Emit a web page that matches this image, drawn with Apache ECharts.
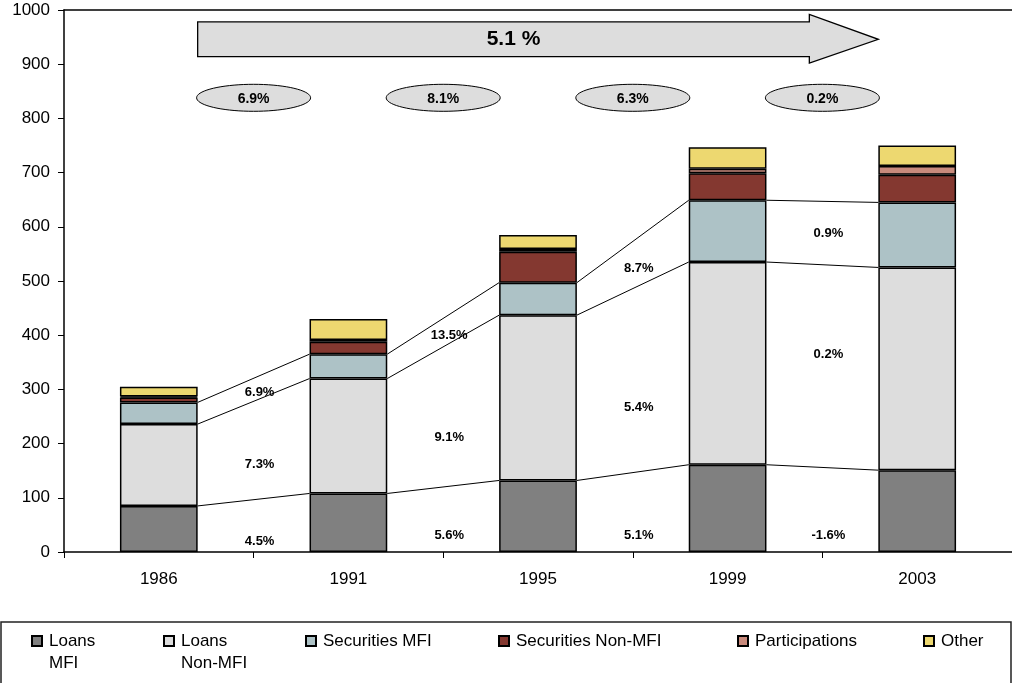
<!DOCTYPE html>
<html>
<head>
<meta charset="utf-8">
<script src="https://cdn.jsdelivr.net/npm/echarts@6/dist/echarts.min.js"></script>
<style>
  html, body { margin: 0; padding: 0; background: #fff; }
  #chart { width: 1012px; height: 683px; }
</style>
</head>
<body>
<div id="chart"></div>
<script>
// Balance sheet composition by year (stacked), with growth rates between years
const years = ['1986', '1991', '1995', '1999', '2003'];
const loansMFI         = [85, 108, 132, 161, 151];
const loansNonMFI      = [151, 212, 305, 374, 374];
const securitiesMFI    = [40, 45, 60, 114, 120];
const securitiesNonMFI = [9, 23, 57, 50, 51];
const participations   = [2, 3, 5, 8, 16];
const other            = [18, 39, 26, 40, 38];

// Average annual growth between consecutive years
const growthLoansMFI    = ['4.5%', '5.6%', '5.1%', '-1.6%'];
const growthLoansNonMFI = ['7.3%', '9.1%', '5.4%', '0.2%'];
const growthSecurities  = ['6.9%', '13.5%', '8.7%', '0.9%'];
const growthTotal       = ['6.9%', '8.1%', '6.3%', '0.2%'];
const growthOverall     = '5.1 %';

// ---- layout (value-axis levels where the annotations sit) ----
const levelLoansMFILabels    = [20, 30, 30, 31];
const levelLoansNonMFILabels = [162, 212, 266, 365];
const levelSecuritiesLabels  = [295, 399, 524, 587];
const ELLIPSE_LEVEL = 838;
const ARROW = { bodyTop: 978, bodyBottom: 914, headTop: 992, headBottom: 902, tip: 946, headLen: 69 };
const BAR_FRAC = 0.41;
const FONT = 'Liberation Sans, Arial, sans-serif';

const cum = (...arrs) => arrs[0].map((_, i) => arrs.reduce((s, a) => s + a[i], 0));
const level1 = cum(loansMFI);
const level2 = cum(loansMFI, loansNonMFI);
const level3 = cum(loansMFI, loansNonMFI, securitiesMFI);

const connectorData = [];
[level1, level2, level3].forEach(lv => {
  for (let i = 0; i < lv.length - 1; i++) connectorData.push([i, lv[i], lv[i + 1]]);
});

const growthLabelData = [];
[[growthLoansMFI, levelLoansMFILabels], [growthLoansNonMFI, levelLoansNonMFILabels],
 [growthSecurities, levelSecuritiesLabels]].forEach(([txt, lv]) => {
  txt.forEach((t, i) => growthLabelData.push({ value: [i, lv[i]], label: t }));
});

const ellipseData = growthTotal.map((t, i) => ({ value: [i, ELLIPSE_LEVEL], label: t }));

const seriesDefs = [
  ['Loans MFI', loansMFI, '#808080'],
  ['Loans Non-MFI', loansNonMFI, '#DDDDDD'],
  ['Securities MFI', securitiesMFI, '#ADC2C6'],
  ['Securities Non-MFI', securitiesNonMFI, '#843830'],
  ['Participations', participations, '#C98A7C'],
  ['Other', other, '#EDD870']
];

const barSeries = seriesDefs.map(([name, data, color]) => ({
  name, type: 'bar', stack: 'total', data,
  barWidth: (BAR_FRAC * 100) + '%',
  itemStyle: { color, borderColor: '#000', borderWidth: 1.5 },
  z: 3
}));

function halfBar(api) { return api.size([1, 0])[0] * BAR_FRAC / 2; }

const connectorSeries = {
  type: 'custom', data: connectorData, z: 2, silent: true,
  renderItem(params, api) {
    const i = api.value(0);
    const a = api.coord([i, api.value(1)]);
    const b = api.coord([i + 1, api.value(2)]);
    const hw = halfBar(api);
    return { type: 'line', shape: { x1: a[0] + hw, y1: a[1], x2: b[0] - hw, y2: b[1] },
             style: { stroke: '#000', lineWidth: 1 } };
  }
};

const growthLabelSeries = {
  type: 'custom', data: growthLabelData, z: 4, silent: true,
  renderItem(params, api) {
    const i = api.value(0);
    const a = api.coord([i, api.value(1)]);
    const b = api.coord([i + 1, api.value(1)]);
    return { type: 'text', x: (a[0] + b[0]) / 2 + 6, y: a[1],
             style: { text: growthLabelData[params.dataIndex].label, fill: '#000',
                      font: 'bold 13px ' + FONT, align: 'center', verticalAlign: 'middle' } };
  }
};

const ellipseSeries = {
  type: 'custom', data: ellipseData, z: 4, silent: true,
  renderItem(params, api) {
    const i = api.value(0);
    const a = api.coord([i, api.value(1)]);
    const b = api.coord([i + 1, api.value(1)]);
    const cx = (a[0] + b[0]) / 2, cy = a[1];
    const rx = 57, ry = 13.5, pts = [];
    for (let k = 0; k < 72; k++) {
      const t = k / 72 * Math.PI * 2;
      pts.push([cx + rx * Math.cos(t), cy + ry * Math.sin(t)]);
    }
    return { type: 'group', children: [
      { type: 'polygon', shape: { points: pts }, style: { fill: '#DDDDDD', stroke: '#000', lineWidth: 1 } },
      { type: 'text', x: cx, y: cy + 1, style: { text: ellipseData[params.dataIndex].label, fill: '#000',
        font: 'bold 14px ' + FONT, align: 'center', verticalAlign: 'middle' } }
    ] };
  }
};

const arrowSeries = {
  type: 'custom', data: [[0, ARROW.tip]], z: 4, silent: true,
  renderItem(params, api) {
    const hw = halfBar(api);
    const x0 = api.coord([0, 0])[0] + hw;
    const x1 = api.coord([years.length - 1, 0])[0] - hw;
    const y = v => api.coord([0, v])[1];
    const xh = x1 - ARROW.headLen;
    const pts = [
      [x0, y(ARROW.bodyTop)], [xh, y(ARROW.bodyTop)], [xh, y(ARROW.headTop)],
      [x1, y(ARROW.tip)], [xh, y(ARROW.headBottom)], [xh, y(ARROW.bodyBottom)],
      [x0, y(ARROW.bodyBottom)]
    ];
    return { type: 'group', children: [
      { type: 'polygon', shape: { points: pts }, style: { fill: '#DDDDDD', stroke: '#000', lineWidth: 1.3 } },
      { type: 'text', x: (x0 + xh) / 2 + 10, y: (y(ARROW.bodyTop) + y(ARROW.bodyBottom)) / 2,
        style: { text: growthOverall, fill: '#000', font: 'bold 21px ' + FONT,
                 align: 'center', verticalAlign: 'middle' } }
    ] };
  }
};

// One legend per entry so each sits at its own column;
// two-word loan names wrap, with the marker beside the first line
const legendLefts = [31, 163, 305, 498, 737, 923];
const legends = seriesDefs.map(([name], k) => {
  const wrapped = name.startsWith('Loans ');
  return {
    data: [name], left: legendLefts[k], top: wrapped ? 608 : 630,
    padding: 0, itemWidth: 10, itemHeight: 10, selectedMode: false,
    icon: 'rect',
    formatter: n => wrapped ? '\n' + n.replace('Loans ', 'Loans\n') : n,
    textStyle: { fontFamily: FONT, fontSize: 17, color: '#000', lineHeight: 22,
                 padding: [0, 0, 0, 2] }
  };
});

const chart = echarts.init(document.getElementById('chart'), null, { renderer: 'canvas' });
chart.setOption({
  animation: false,
  backgroundColor: '#fff',
  textStyle: { fontFamily: FONT },
  grid: { left: 64, right: 0, top: 10, bottom: 131, containLabel: false },
  legend: legends,
  xAxis: [
    { type: 'category', data: years, position: 'bottom',
      axisLine: { lineStyle: { color: '#000', width: 1.5 } },
      axisTick: { show: true, length: 6, lineStyle: { color: '#000', width: 1 } },
      axisLabel: { color: '#000', fontSize: 17, margin: 19, fontFamily: FONT } },
    { type: 'category', data: years, position: 'top',
      axisLine: { lineStyle: { color: '#000', width: 1.5 } },
      axisTick: { show: false }, axisLabel: { show: false } }
  ],
  yAxis: {
    type: 'value', min: 0, max: 1000, interval: 100,
    axisLine: { show: true, lineStyle: { color: '#000', width: 1.5 } },
    axisTick: { show: true, length: 6, lineStyle: { color: '#000', width: 1 } },
    splitLine: { show: false },
    axisLabel: { color: '#000', fontSize: 17, margin: 14, fontFamily: FONT,
                 formatter: v => String(v) }
  },
  graphic: [
    { type: 'rect', shape: { x: 1, y: 622, width: 1010, height: 70 },
      style: { fill: 'none', stroke: '#222', lineWidth: 1.5 }, silent: true }
  ],
  series: [...barSeries, connectorSeries, growthLabelSeries, ellipseSeries, arrowSeries]
});
</script>
</body>
</html>
